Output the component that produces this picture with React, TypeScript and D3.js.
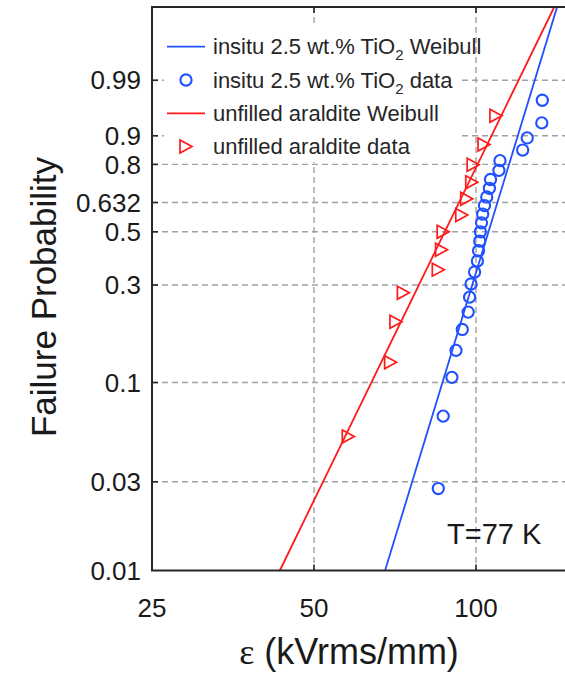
import React, { useEffect, useRef } from 'react';
import * as d3 from 'd3';

// failure field (kVrms/mm) and median-rank probabilities
const tioField = [85.1, 86.9, 90.2, 91.8, 94.3, 96.7, 97.3, 97.9, 99.4, 100.6, 101.1, 101.6, 101.9, 102.4, 102.9, 103.7, 104.7, 105.9, 106.4, 110.3, 110.8, 122.1, 124.5, 132.5, 132.8];
const tioProb = [0.0276, 0.0669, 0.1063, 0.1457, 0.1850, 0.2244, 0.2638, 0.3031, 0.3425, 0.3819, 0.4213, 0.4606, 0.5, 0.5394, 0.5787, 0.6181, 0.6575, 0.6969, 0.7362, 0.7756, 0.8150, 0.8543, 0.8937, 0.9331, 0.9724];
const araField = [57.9, 69.4, 71.0, 73.3, 85.1, 86.3, 86.9, 94.1, 96.1, 98.2, 98.8, 103.5, 108.9];
const araProb = [0.0522, 0.1269, 0.2015, 0.2761, 0.3507, 0.4254, 0.5, 0.5746, 0.6493, 0.7239, 0.7985, 0.8731, 0.9478];

// weibull fits: [scale, shape]
const tioFit = [109.6, 9.57];
const araFit = [93.0, 6.0];

const xTicks = [25, 50, 100];
const yTicks = [0.01, 0.03, 0.1, 0.3, 0.5, 0.632, 0.8, 0.9, 0.99];
const xDomain = [25, 150];
const yDomain = [0.01, 0.99999];

const BLUE = '#2050ff';
const RED = '#ff1a1a';
const AXIS = '#262626';

const weib = (p: number) => Math.log(-Math.log(1 - p));

function WeibullChart() {
  const ref = useRef<SVGSVGElement | null>(null);

  useEffect(() => {
    const svg = d3.select(ref.current);
    svg.selectAll('*').remove();

    const left = 152;
    const top = 7;
    const bottom = 570.5;

    const x = d3.scaleLog().domain(xDomain).range([left, left + 162 * Math.log2(xDomain[1] / xDomain[0])]);
    const y = d3.scaleLinear().domain(yDomain.map(weib)).range([bottom, top]);
    const right = x(xDomain[1]);
    const font = 'Arial, "Liberation Sans", Helvetica, sans-serif';

    svg.append('defs').append('clipPath').attr('id', 'plotclip')
      .append('rect')
      .attr('x', left).attr('y', top)
      .attr('width', right - left).attr('height', bottom - top);

    const grid = svg.append('g')
      .attr('stroke', '#a0a0a0')
      .attr('stroke-width', 1.4)
      .attr('stroke-dasharray', '6,4');

    grid.selectAll('.gx')
      .data(xTicks.slice(1))
      .enter().append('line')
      .attr('x1', (d) => x(d)).attr('x2', (d) => x(d))
      .attr('y1', top).attr('y2', bottom);

    grid.selectAll('.gy')
      .data(yTicks.slice(1))
      .enter().append('line')
      .attr('x1', left).attr('x2', right)
      .attr('y1', (d) => y(weib(d))).attr('y2', (d) => y(weib(d)));

    // fitted lines
    const fitLine = (fit: number[]) => d3.line<number>()
      .x((p) => x(fit[0] * Math.pow(-Math.log(1 - p), 1 / fit[1])))
      .y((p) => y(weib(p)));

    const plot = svg.append('g').attr('clip-path', 'url(#plotclip)');

    plot.append('path')
      .attr('d', fitLine(tioFit)(yDomain))
      .attr('fill', 'none')
      .attr('stroke', BLUE)
      .attr('stroke-width', 1.8);

    plot.append('path')
      .attr('d', fitLine(araFit)(yDomain))
      .attr('fill', 'none')
      .attr('stroke', RED)
      .attr('stroke-width', 1.8);

    plot.selectAll('.tio')
      .data(tioField)
      .enter().append('circle')
      .attr('cx', (d) => x(d))
      .attr('cy', (d, i) => y(weib(tioProb[i])))
      .attr('r', 5.6)
      .attr('fill', 'none')
      .attr('stroke', BLUE)
      .attr('stroke-width', 2.1);

    const tri = (cx: number, cy: number) => `M${cx - 6},${cy - 6.5}L${cx + 6},${cy}L${cx - 6},${cy + 6.5}Z`;

    plot.selectAll('.ara')
      .data(araField)
      .enter().append('path')
      .attr('d', (d, i) => tri(x(d), y(weib(araProb[i]))))
      .attr('fill', 'none')
      .attr('stroke', RED)
      .attr('stroke-width', 1.7);

    // frame and ticks
    svg.append('rect')
      .attr('x', left).attr('y', top)
      .attr('width', right - left).attr('height', bottom - top)
      .attr('fill', 'none')
      .attr('stroke', AXIS)
      .attr('stroke-width', 2);

    const ticks = svg.append('g').attr('stroke', AXIS).attr('stroke-width', 1.6);
    xTicks.slice(1).forEach((t) => {
      ticks.append('line').attr('x1', x(t)).attr('x2', x(t)).attr('y1', bottom).attr('y2', bottom - 6);
      ticks.append('line').attr('x1', x(t)).attr('x2', x(t)).attr('y1', top).attr('y2', top + 6);
    });
    yTicks.slice(1).forEach((t) => {
      ticks.append('line').attr('x1', left).attr('x2', left + 6).attr('y1', y(weib(t))).attr('y2', y(weib(t)));
    });

    svg.append('g')
      .selectAll('text')
      .data(yTicks)
      .enter().append('text')
      .attr('x', 141)
      .attr('y', (d) => y(weib(d)))
      .attr('dy', '0.35em')
      .attr('text-anchor', 'end')
      .style('font-family', font)
      .style('font-size', '26px')
      .style('fill', '#1a1a1a')
      .text((d) => String(d));

    svg.append('g')
      .selectAll('text')
      .data(xTicks)
      .enter().append('text')
      .attr('x', (d) => x(d))
      .attr('y', 617)
      .attr('text-anchor', 'middle')
      .style('font-family', font)
      .style('font-size', '26px')
      .style('fill', '#1a1a1a')
      .text((d) => String(d));

    svg.append('text')
      .attr('transform', 'translate(56,297) rotate(-90)')
      .attr('text-anchor', 'middle')
      .style('font-family', font)
      .style('font-size', '35px')
      .style('fill', '#1a1a1a')
      .text('Failure Probability');

    const xl = svg.append('text')
      .attr('x', 349)
      .attr('y', 664)
      .attr('text-anchor', 'middle')
      .style('font-family', font)
      .style('font-size', '36px')
      .style('fill', '#1a1a1a');
    xl.append('tspan').style('font-family', '"Liberation Serif", "DejaVu Serif", serif').text('ε');
    xl.append('tspan').text(' (kVrms/mm)');

    svg.append('text')
      .attr('x', 447)
      .attr('y', 544)
      .style('font-family', font)
      .style('font-size', '29px')
      .style('fill', '#1a1a1a')
      .text('T=77 K');

    // legend
    const lg = svg.append('g');
    lg.append('rect')
      .attr('x', 164).attr('y', 25)
      .attr('width', 296).attr('height', 137)
      .attr('fill', '#fff');

    const rows = [
      { kind: 'line', color: BLUE, label: ['insitu 2.5 wt.% TiO', '2', ' Weibull'] },
      { kind: 'circle', color: BLUE, label: ['insitu 2.5 wt.% TiO', '2', ' data'] },
      { kind: 'line', color: RED, label: ['unfilled araldite Weibull'] },
      { kind: 'tri', color: RED, label: ['unfilled araldite data'] },
    ];
    rows.forEach((r, i) => {
      const cy = 46.7 + i * 33.3;
      if (r.kind === 'line') {
        lg.append('line').attr('x1', 167).attr('x2', 205).attr('y1', cy).attr('y2', cy)
          .attr('stroke', r.color).attr('stroke-width', 1.8);
      } else if (r.kind === 'circle') {
        lg.append('circle').attr('cx', 186).attr('cy', cy).attr('r', 5.6)
          .attr('fill', 'none').attr('stroke', r.color).attr('stroke-width', 2.1);
      } else {
        lg.append('path').attr('d', tri(186, cy))
          .attr('fill', 'none').attr('stroke', r.color).attr('stroke-width', 1.7);
      }
      const t = lg.append('text')
        .attr('x', 213)
        .attr('y', cy)
        .attr('dy', '0.35em')
        .style('font-family', font)
        .style('font-size', '22px')
        .style('fill', '#262626');
      t.append('tspan').text(r.label[0]);
      if (r.label.length > 1) {
        t.append('tspan').attr('dy', 6).style('font-size', '15px').text(r.label[1]);
        t.append('tspan').attr('dy', -6).text(r.label[2]);
      }
    });
  }, []);

  return <svg ref={ref} width={565} height={675} style={{ display: 'block' }} />;
}

export default function App() {
  return (
    <div style={{ position: 'absolute', left: 0, top: 0, width: 565, height: 675, background: '#fff', overflow: 'hidden' }}>
      <WeibullChart />
    </div>
  );
}
